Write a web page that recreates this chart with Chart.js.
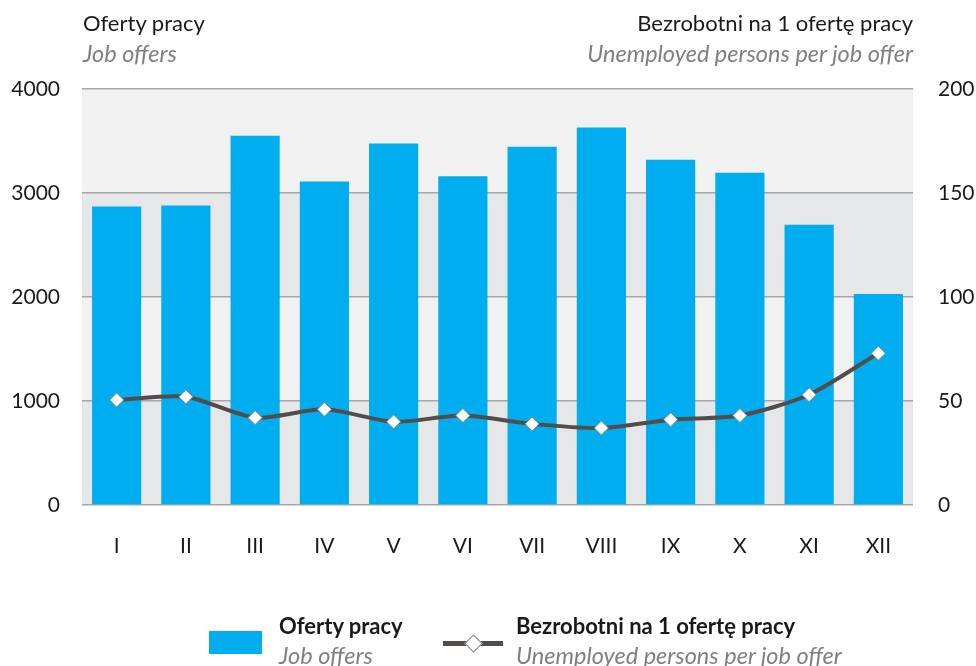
<!DOCTYPE html>
<html>
<head>
<meta charset="utf-8">
<script src="https://cdn.jsdelivr.net/npm/chart.js@4"></script>
<style>
  body { margin: 0; background: #fff; font-family: Lato, sans-serif; }
  #wrap { position: relative; width: 976px; height: 666px; }
  .t { position: absolute; font-size: 22px; line-height: 26px; white-space: nowrap; color: #1a1a1a; }
  .it { font-style: italic; color: #808080; font-size: 23.5px; }
  .b { font-weight: bold; }
  .box { position: absolute; left: 209px; top: 631px; width: 53px; height: 23px; background: #00adef; }
  .ln { position: absolute; left: 443px; top: 641px; width: 60px; height: 5px; background: #524c4a; }
  .dm { position: absolute; left: 467px; top: 637px; width: 11px; height: 11px; background: #fff; border: 1px solid #888; transform: rotate(45deg); }
</style>
</head>
<body>
<div id="wrap">
  <canvas id="c" width="976" height="666"></canvas>
  <div class="t" style="left:83px;top:10px">Oferty pracy</div>
  <div class="t it" style="left:83px;top:40px">Job offers</div>
  <div class="t" style="right:63px;top:10px">Bezrobotni na 1 ofertę pracy</div>
  <div class="t it" style="right:63px;top:40px">Unemployed persons per job offer</div>

  <div class="box"></div>
  <div class="t b" style="left:279px;top:613px">Oferty pracy</div>
  <div class="t it" style="left:279px;top:642px">Job offers</div>
  <div class="ln"></div><div class="dm"></div>
  <div class="t b" style="left:516px;top:613px">Bezrobotni na 1 ofertę pracy</div>
  <div class="t it" style="left:516px;top:642px">Unemployed persons per job offer</div>
</div>
<script>
const months = ['I','II','III','IV','V','VI','VII','VIII','IX','X','XI','XII'];
const jobOffers = [2870, 2880, 3550, 3110, 3475, 3160, 3445, 3630, 3320, 3195, 2695, 2030];
const unemployedPerOffer = [50.5, 52, 42, 46, 40, 43, 39, 37, 41, 43, 53, 73];
const leftTicks = [0, 1000, 2000, 3000, 4000];
const rightTicks = [0, 50, 100, 150, 200];

// alternating grey bands behind the bars
const bands = {
    id: 'bands',
    beforeDraw(chart) {
        const { ctx, chartArea: a, scales: { y } } = chart;
        ctx.save();
        for (let i = 0; i < leftTicks.length - 1; i++) {
            const top = y.getPixelForValue(leftTicks[i + 1]);
            const bot = y.getPixelForValue(leftTicks[i]);
            ctx.fillStyle = i % 2 === 0 ? '#e6e7e8' : '#f1f1f1';
            ctx.fillRect(a.left, top, a.right - a.left, bot - top);
        }
        ctx.restore();
    }
};

const font = { family: 'Lato', size: 21 };
const plain = v => String(v);

new Chart(document.getElementById('c'), {
    data: {
        labels: months,
        datasets: [
            { type: 'line', label: 'Bezrobotni na 1 ofertę pracy', data: unemployedPerOffer, yAxisID: 'y2',
              borderColor: '#524c4a', borderWidth: 4, tension: 0.25,
              pointStyle: 'rectRot', pointRadius: 7, pointBackgroundColor: '#fff', pointBorderColor: '#888', pointBorderWidth: 1, order: 1 },
            { type: 'bar', label: 'Oferty pracy', data: jobOffers, yAxisID: 'y',
              backgroundColor: '#00adef', barPercentage: 0.71, categoryPercentage: 1, order: 2 }
        ]
    },
    options: {
        responsive: false, animation: false,
        layout: { padding: { top: 89, left: 0, right: 0, bottom: 0 } },
        plugins: { legend: { display: false }, tooltip: { enabled: false } },
        scales: {
            x: {
                grid: { display: false, drawTicks: false }, border: { display: false },
                ticks: { font, color: '#1a1a1a', padding: 29 },
                afterFit(s) { s.height = 161; }
            },
            y: {
                position: 'left', min: 0, max: 4000,
                afterBuildTicks(s) { s.ticks = leftTicks.map(v => ({ value: v })); },
                grid: { color: '#a6a6a6', lineWidth: 1.5, drawTicks: false }, border: { display: false },
                ticks: { font, color: '#1a1a1a', padding: 22, callback: plain },
                afterFit(s) { s.width = 82; }
            },
            y2: {
                position: 'right', min: 0, max: 200,
                afterBuildTicks(s) { s.ticks = rightTicks.map(v => ({ value: v })); },
                grid: { display: false, drawTicks: false }, border: { display: false },
                ticks: { font, color: '#1a1a1a', padding: 25, callback: plain },
                afterFit(s) { s.width = 63; }
            }
        }
    },
    plugins: [bands]
});
</script>
</body>
</html>
